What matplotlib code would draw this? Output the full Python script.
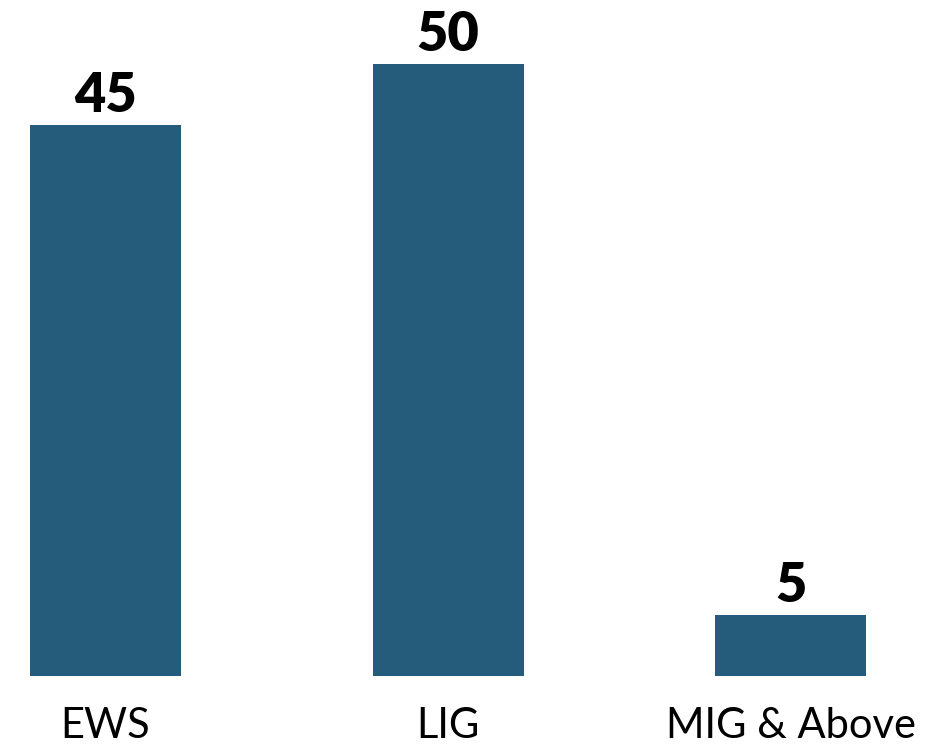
import matplotlib.pyplot as plt

categories = ["EWS", "LIG", "MIG & Above"]
values = [45, 50, 5]
value_labels = ["45", "50", "5"]

bar_color = "#255b7b"

fig = plt.figure(figsize=(9.3, 7.48), dpi=100)
ax = fig.add_axes([0, 72 / 748, 1, 676 / 748])

x = range(len(categories))
bars = ax.bar(x, values, width=0.441, color=bar_color)

for bar, label in zip(bars, value_labels):
    ax.annotate(label, (bar.get_x() + bar.get_width() / 2, bar.get_height()),
                xytext=(0, 3), textcoords="offset points",
                ha="center", va="bottom", fontsize=39, fontweight="heavy",
                family="Lato", color="black")

ax.set_xlim(-0.308, 2.407)
ax.set_ylim(0, 676 / 12.24)
ax.set_xticks(list(x))
ax.set_xticklabels(categories, fontsize=30, family="Lato", fontweight="normal")
ax.tick_params(axis="x", length=0, pad=22)
ax.set_yticks([])
for side in ax.spines.values():
    side.set_visible(False)

fig.savefig("out.png", dpi=100)
